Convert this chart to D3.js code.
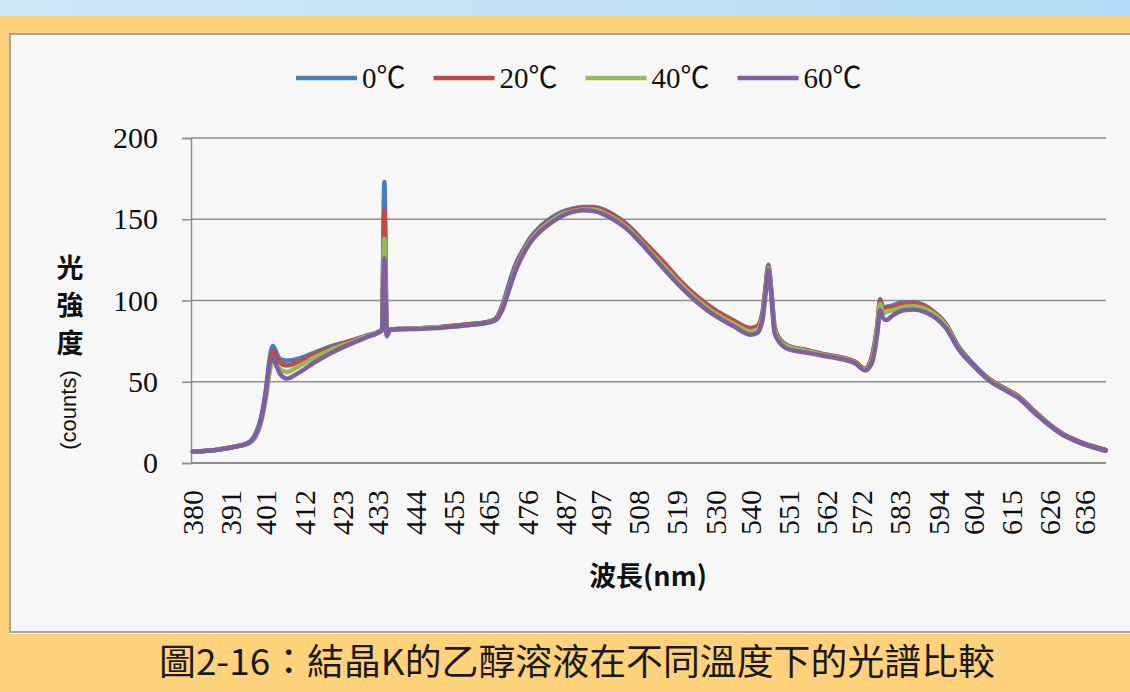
<!DOCTYPE html>
<html>
<head>
<meta charset="utf-8">
<script src="https://cdn.jsdelivr.net/npm/d3@7"></script>
<style>
  html, body { margin: 0; padding: 0; background: #ffd27b; }
  svg { display: block; }
</style>
</head>
<body>
<svg id="chart" width="1130" height="692"></svg>
<script>
// Wavelength samples (nm)
const wavelength = [380,384,388,392,396,398,399.5,401,402,403,404,405,407,410,415,420,425,430,433,434.3,435,435.7,436.7,440,445,450,455,460,465,467,469,471,473,475,477,480,483,486,489,492,495,498,501,504,507,510,515,520,525,530,535,540,542,543.5,544.5,545.2,546,547,548.5,551,556,561,566,570,573,575,576.5,577.3,578.2,579,581,584,587,590,593,596,600,604,609,613,617,621,626,630,634,638,642];

// Light intensity (counts) at each temperature
const counts0C  = [7,7.5,8.5,10,12.5,18,27,45,63,72,68,64,63,64,68,72,75,78.5,80.5,82,173,79,82,82.5,83,83.5,84.5,85.5,87,89,98,112,124,132,139,146,151,154.5,156.5,157.5,157.5,156,152.5,148,142,135,123,111,101,93,87,83,84,92,110,122,108,84,76,72,69.5,67,65,62.5,58,66,85,101,95,96,97,99,99,97,92.5,86,71,61,51,46,41,33,23.5,17.5,13.5,10.5,8];
const counts20C = [7,7.5,8.5,10,12,17,25,43,60,69,65,62,60,62,67,71,75,78,80,82,156,79,82,82.5,83,83.5,84.5,85.5,87,88.5,97,110,122,131,138,145,150,153.5,156,157,157,155.5,152,147.5,141.5,135,124,112,102,94,88,83,84,92,110,121,107,83,76,72,69.5,67,65,62.5,58,66,85,100,94,95,96,98,98.5,96.5,92.5,86,70.5,60.5,51,46,41,33,23.5,17.5,13.5,10.5,8];
const counts40C = [7,7.5,8.5,10,12,16,24,40,55,64,60,58,56,59,65,70,74,78,80,82,138,79,82,82.5,83,83.5,84,85,86.5,88,96,109,121,130,137,144,149,153,155,156,156,154,150.5,146,140,133,121.5,110,100,92,86,81,82,90,108,120,106,82,75,71.5,69,66.5,64.5,62,57.5,64,83,98,92,93,94,96,96.5,95,91.5,85,70,60,50.5,45.5,40.5,32.5,23,17,13,10,7.5];
const counts60C = [7,7.5,8.5,10,12.5,17,26,43,60,65,60,55,52,55,62,68,73,77.5,80,81.5,126,78,82,82.5,82.5,83,84,85,86.5,88,95,108,120,129,136,143,148,152,154.5,155.5,155,153,149.5,145,139,132,120,108.5,98.5,90.5,84.5,79,80,88,106,119,104,80,74,70,68,66,64,61.5,57,62,80,94,89,88,91,94,94.5,93,89.5,83.5,69.5,60,50,45,40,32,23,17,13,10,7.5];

const seriesNames  = ["0℃", "20℃", "40℃", "60℃"];
const seriesColors = ["#4a7ebb", "#be4b48", "#98b954", "#7d60a0"];
const seriesValues = [counts0C, counts20C, counts40C, counts60C];

const yTicks = [0, 50, 100, 150, 200];
const xTickLabels = [380,391,401,412,423,433,444,455,465,476,487,497,508,519,530,540,551,562,572,583,594,604,615,626,636];

const svg = d3.select("#chart");

// Page frame: blue strip, yellow frame, light panel
const defs = svg.append("defs");
const grad = defs.append("linearGradient").attr("id", "topStrip").attr("x1", 0).attr("x2", 1);
grad.append("stop").attr("offset", 0).attr("stop-color", "#cfe6f6");
grad.append("stop").attr("offset", 1).attr("stop-color", "#b5dcf6");
svg.append("rect").attr("x", 0).attr("y", 0).attr("width", 1130).attr("height", 16).attr("fill", "url(#topStrip)");
svg.append("rect").attr("x", 0).attr("y", 16).attr("width", 1130).attr("height", 676).attr("fill", "#ffd27b");
svg.append("rect").attr("x", 9).attr("y", 33).attr("width", 1140).attr("height", 601)
  .attr("fill", "#ffffff");
svg.append("rect").attr("x", 10).attr("y", 34).attr("width", 1140).attr("height", 598)
  .attr("fill", "#f7f7f7").attr("stroke", "#a3a3a3").attr("stroke-width", 2);

// Scales
const x = d3.scaleLinear().domain([379.5, 642.4]).range([191, 1107]);
const y = d3.scaleLinear().domain([0, 200]).range([463, 138]);

// Horizontal gridlines
svg.append("g").selectAll("line").data(yTicks).join("line")
  .attr("x1", 191).attr("x2", 1106)
  .attr("y1", d => y(d)).attr("y2", d => y(d))
  .attr("stroke", "#8e8e8e").attr("stroke-width", d => d === 0 ? 2 : 1.5);

// Y axis
const yAxis = svg.append("g").attr("transform", "translate(191,0)")
  .call(d3.axisLeft(y).tickValues(yTicks).tickSize(9).tickPadding(24));
yAxis.select(".domain").attr("stroke", "#8e8e8e").attr("stroke-width", 1.5);
yAxis.selectAll(".tick line").attr("stroke", "#8e8e8e").attr("stroke-width", 1.5);
yAxis.selectAll(".tick text")
  .attr("font-family", "'Liberation Serif', serif").attr("font-size", 30).attr("fill", "#111");

// X axis labels (rotated)
const xAxis = svg.append("g").attr("transform", "translate(0,463)")
  .call(d3.axisBottom(x).tickValues(xTickLabels).tickSize(0).tickFormat(d3.format("d")));
xAxis.select(".domain").remove();
xAxis.selectAll(".tick text")
  .attr("transform", "rotate(-90)")
  .attr("x", -27).attr("y", 0).attr("dy", "0.33em")
  .attr("text-anchor", "end")
  .attr("font-family", "'Liberation Serif', serif").attr("font-size", 30).attr("fill", "#111");

// Spectra
const line = d3.line()
  .x((d, i) => x(wavelength[i]))
  .y(d => y(d))
  .curve(d3.curveMonotoneX);

svg.append("g").selectAll("path").data(seriesValues).join("path")
  .attr("d", d => line(d))
  .attr("fill", "none")
  .attr("stroke", (d, i) => seriesColors[i])
  .attr("stroke-width", 4.5)
  .attr("stroke-linejoin", "round")
  .attr("stroke-linecap", "round");

// Legend
const legend = svg.append("g").attr("transform", "translate(0,78)");
let lx = 296;
seriesNames.forEach((name, i) => {
  legend.append("line")
    .attr("x1", lx).attr("x2", lx + 61).attr("y1", 0).attr("y2", 0)
    .attr("stroke", seriesColors[i]).attr("stroke-width", 4.5);
  const t = legend.append("text")
    .attr("x", lx + 66).attr("y", 0).attr("dy", "0.33em")
    .attr("font-family", "'Liberation Serif', 'Noto Sans CJK TC', serif")
    .attr("font-size", 29).attr("fill", "#111")
    .text(name);
  lx += 66 + t.node().getComputedTextLength() + 28;
});

// Y axis title
const yTitle = ["光", "強", "度"];
svg.append("g").selectAll("text").data(yTitle).join("text")
  .attr("x", 70).attr("y", (d, i) => 268 + i * 37.5).attr("dy", "0.36em")
  .attr("text-anchor", "middle")
  .attr("font-family", "'Noto Sans CJK TC', sans-serif").attr("font-weight", "bold")
  .attr("font-size", 27).attr("fill", "#111")
  .text(d => d);
svg.append("text")
  .attr("transform", "translate(68,410) rotate(-90)")
  .attr("text-anchor", "middle").attr("dy", "0.35em")
  .attr("font-family", "'Liberation Sans', sans-serif").attr("font-size", 22).attr("fill", "#111")
  .text("(counts)");

// X axis title
svg.append("text")
  .attr("x", 648).attr("y", 586)
  .attr("text-anchor", "middle")
  .attr("font-family", "'Noto Sans CJK TC', sans-serif").attr("font-weight", "bold")
  .attr("font-size", 27).attr("fill", "#111")
  .text("波長(nm)");

// Figure caption
svg.append("text")
  .attr("x", 159).attr("y", 675)
  .attr("textLength", 836).attr("lengthAdjust", "spacingAndGlyphs")
  .attr("font-family", "'Noto Sans CJK TC', sans-serif")
  .attr("font-size", 36).attr("fill", "#1a1a1a")
  .text("圖2-16：結晶K的乙醇溶液在不同溫度下的光譜比較");
</script>
</body>
</html>
